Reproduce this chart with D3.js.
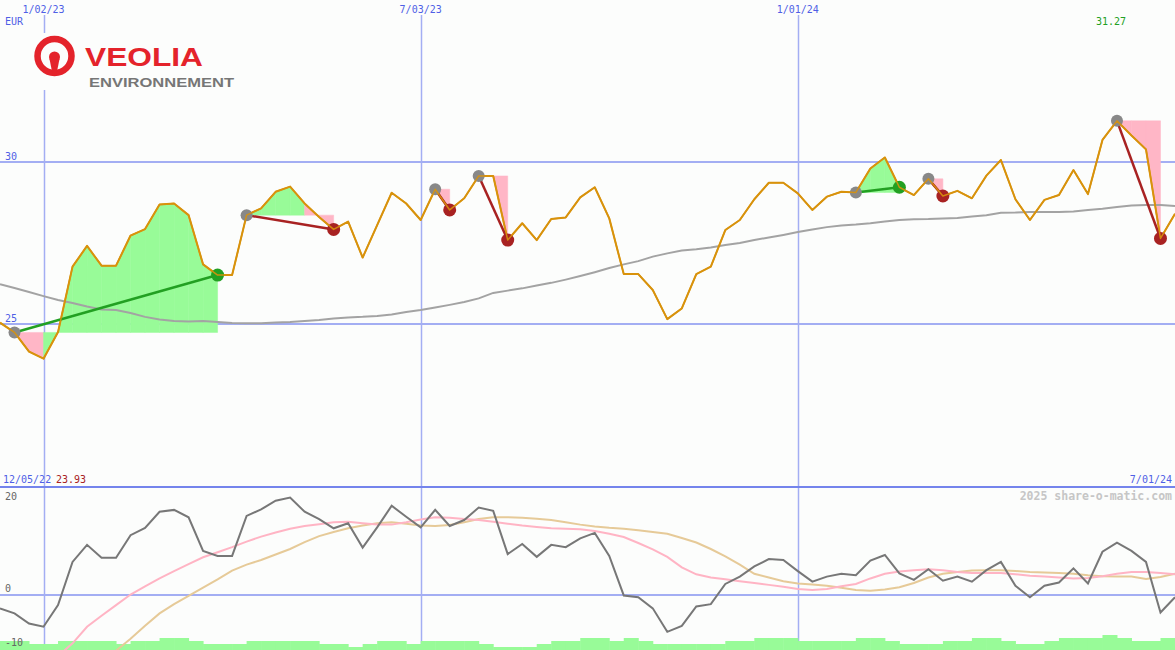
<!DOCTYPE html>
<html><head><meta charset="utf-8">
<script src="https://cdn.jsdelivr.net/npm/d3@7"></script>
<style>body{margin:0;background:#fcfdfc} svg{display:block}</style>
</head><body><svg id="c" width="1175" height="650"></svg>
<script>
// ---------- data ----------
const startDate = "2022-12-12";           // first weekly point
const close = [
  25.04, 24.74, 24.15, 23.93, 24.75, 26.77, 27.41, 26.80, 26.80, 27.73,
  27.93, 28.69, 28.72, 28.36, 26.84, 26.51, 26.51, 28.36, 28.57, 29.08,
  29.24, 28.72, 28.30, 27.92, 28.16, 27.05, 28.05, 29.05, 28.72, 28.21,
  29.16, 28.52, 28.88, 29.57, 29.57, 27.59, 28.11, 27.59, 28.24, 28.29,
  28.91, 29.22, 28.26, 26.54, 26.54, 26.05, 25.15, 25.48, 26.54, 26.77,
  27.90, 28.21, 28.85, 29.36, 29.36, 29.03, 28.52, 28.93, 29.08, 29.06,
  29.80, 30.14, 29.22, 28.98, 29.48, 28.95, 29.11, 28.88, 29.58, 30.06,
  28.85, 28.21, 28.83, 28.98, 29.75, 29.01, 30.68, 31.27, 30.82, 30.39,
  27.64, 28.40
];
const movingAvg = [
  26.23, 26.11, 25.99, 25.86, 25.74, 25.65, 25.54, 25.45, 25.43, 25.34,
  25.22, 25.14, 25.09, 25.08, 25.09, 25.06, 25.03, 25.02, 25.02, 25.05,
  25.06, 25.09, 25.12, 25.17, 25.20, 25.22, 25.25, 25.29, 25.37, 25.43,
  25.51, 25.59, 25.68, 25.79, 25.96, 26.03, 26.10, 26.19, 26.27, 26.37,
  26.48, 26.60, 26.73, 26.84, 26.94, 27.08, 27.18, 27.27, 27.31, 27.36,
  27.44, 27.50, 27.59, 27.67, 27.75, 27.84, 27.92, 27.99, 28.04, 28.07,
  28.11, 28.16, 28.21, 28.23, 28.24, 28.26, 28.27, 28.32, 28.36, 28.43,
  28.44, 28.46, 28.46, 28.46, 28.47, 28.52, 28.56, 28.61, 28.66, 28.67,
  28.67, 28.64
];
const oscillator = [
  -2.9, -4.0, -6.2, -6.9, -2.2, 7.2, 10.9, 8.1, 8.1, 13.0,
  14.6, 18.1, 18.5, 16.9, 9.6, 8.5, 8.5, 17.2, 18.6, 20.5,
  21.2, 18.1, 16.5, 14.5, 15.6, 10.3, 14.7, 19.4, 17.0, 14.7,
  18.5, 15.0, 16.3, 19.0, 18.3, 8.9, 11.1, 8.3, 10.9, 10.4,
  12.3, 13.5, 8.5, -0.1, -0.5, -2.9, -8.0, -6.7, -2.5, -2.0,
  2.4, 4.0, 6.2, 7.8, 7.6, 5.2, 2.9, 4.0, 4.6, 4.3,
  7.5, 8.7, 4.7, 3.3, 5.6, 3.1, 4.0, 2.9, 5.4, 7.2,
  2.0, -0.5, 2.0, 2.7, 5.8, 2.5, 9.4, 11.4, 9.6, 7.2,
  -3.8, -0.5
];
const signalFast = [
  -23, -21, -18.5, -16, -13.3, -10.5, -6.9, -4.5, -2.2, 0.1,
  1.9, 3.6, 5.2, 6.7, 8.2, 9.3, 10.4, 11.6, 12.7, 13.6,
  14.4, 15.0, 15.4, 15.8, 15.9, 15.6, 15.3, 15.3, 15.8, 16.4,
  16.9, 16.8, 16.5, 16.3, 15.9, 15.5, 15.1, 14.8, 14.5, 14.4,
  14.3, 13.9, 13.3, 12.6, 11.3, 9.9, 8.3, 6.0, 4.5, 3.8,
  3.4, 3.0, 2.6, 2.2, 1.8, 1.3, 1.1, 1.3, 1.9, 2.4,
  3.6, 4.6, 5.1, 5.4, 5.6, 5.4, 5.0, 4.8, 4.8, 4.8,
  4.5, 4.2, 4.0, 3.8, 3.6, 3.7, 4.1, 4.6, 5.0, 5.0,
  4.8, 4.5
];
const signalSlow = [
  -31, -29, -27, -25, -22.5, -20, -17.5, -14.8, -12.1, -9.5,
  -6.7, -4.0, -2.0, -0.2, 1.6, 3.4, 5.3, 6.6, 7.6, 8.8,
  10.0, 11.5, 12.8, 13.7, 14.5, 15.1, 15.6, 15.8, 15.5, 15.1,
  15.0, 15.2, 15.8, 16.5, 16.9, 16.9, 16.8, 16.6, 16.3, 15.8,
  15.3, 14.9, 14.6, 14.4, 14.1, 13.7, 13.3, 12.4, 11.4, 10.0,
  8.4, 6.6, 4.6, 3.8, 3.0, 2.5, 2.3, 2.0, 1.6, 1.1,
  0.9, 1.2, 1.7, 2.6, 3.8, 4.6, 5.0, 5.3, 5.4, 5.4,
  5.2, 5.0, 4.9, 4.8, 4.6, 4.3, 4.1, 4.0, 4.0, 3.5,
  3.9, 4.6
];
const volume = [
  3, 3, 2, 2, 3, 3, 3, 3, 2, 3,
  3, 4, 4, 3, 2, 2, 2, 3, 3, 3,
  3, 3, 2, 2, 1, 2, 3, 3, 2, 3,
  3, 3, 3, 2, 1, 1, 1, 2, 3, 3,
  4, 4, 3, 4, 3, 2, 2, 2, 2, 2,
  3, 3, 4, 4, 4, 3, 3, 3, 3, 4,
  4, 3, 2, 2, 2, 3, 3, 4, 4, 3,
  2, 2, 3, 4, 4, 4, 5, 4, 3, 3,
  4, 4
];
const tradeEntry = [1, 17, 30, 33, 59, 64, 77];
const tradeExit  = [15, 23, 31, 35, 62, 65, 80];
const priceTicks = [25, 30];
const oscTicks = [20, 0, -10];
const gridDates  = ["2023-01-02", "2023-07-03", "2024-01-01"];
const gridLabels = ["1/02/23", "7/03/23", "1/01/24"];
const firstLabel = "12/05/22";
const lastLabel = "7/01/24";
const currency = "EUR";
const credit = "2025 share-o-matic.com";

// ---------- setup ----------
const W = 1175, H = 650;
const parse = d3.utcParse("%Y-%m-%d");
const dates = close.map((_, i) => d3.utcDay.offset(parse(startDate), 7 * i));
const x = d3.scaleUtc().domain([dates[0], dates[dates.length - 1]]).range([0, W]);
const y = d3.scaleLinear().domain([25, 30]).range([324, 162]);
const yo = d3.scaleLinear().domain([0, 20]).range([595, 503]);
const vh = d3.scaleLinear().domain([0, 5]).range([0, 15]);

const C = {
  bg: "#fcfdfc", grid: "#a3aef3", sep: "#7484ec", label: "#4f5fe6",
  price: "#d8920c", ma: "#a3a3a3", fillUp: "#98fb98", fillDn: "#ffb6c6",
  entry: "#888888", win: "#22a022", loss: "#a82222",
  osc: "#777777", fast: "#ffb4c4", slow: "#e6ca98", vol: "#98fb98"
};
const mono = "'DejaVu Sans Mono', monospace";

const svg = d3.select("#c");
svg.append("rect").attr("width", W).attr("height", H).attr("fill", C.bg);

// ---------- grid ----------
svg.append("g").selectAll("line").data(gridDates).join("line")
  .attr("x1", d => Math.round(x(parse(d))) + 0.5).attr("x2", d => Math.round(x(parse(d))) + 0.5)
  .attr("y1", 15).attr("y2", H)
  .attr("stroke", C.grid).attr("stroke-width", 1.5);
svg.append("g").selectAll("line").data(priceTicks).join("line")
  .attr("x1", 0).attr("x2", W).attr("y1", d => y(d)).attr("y2", d => y(d))
  .attr("stroke", C.grid).attr("stroke-width", 2);
svg.append("line").attr("x1", 0).attr("x2", W).attr("y1", yo(0)).attr("y2", yo(0))
  .attr("stroke", C.grid).attr("stroke-width", 2);
svg.append("line").attr("x1", 0).attr("x2", W).attr("y1", 487).attr("y2", 487)
  .attr("stroke", C.sep).attr("stroke-width", 2);

// ---------- trade fills ----------
const fillG = svg.append("g");
const segArea = d3.area().x(d => x(d.date)).y0(d => y(d.base)).y1(d => y(d.v));
tradeEntry.forEach((e, k) => {
  const s = tradeExit[k], base = close[e];
  for (let i = e; i < s; i++) {
    const pts = [{date: dates[i], v: close[i], base}, {date: dates[i + 1], v: close[i + 1], base}];
    fillG.append("path").attr("d", segArea(pts))
      .attr("fill", close[i + 1] >= base - 0.005 ? C.fillUp : C.fillDn)
      .attr("stroke", close[i + 1] >= base - 0.005 ? C.fillUp : C.fillDn).attr("stroke-width", 0.5);
  }
});

// ---------- lines ----------
const line = d3.line().x((d, i) => x(dates[i])).y(d => y(d));
svg.append("path").attr("d", line(movingAvg)).attr("fill", "none")
  .attr("stroke", C.ma).attr("stroke-width", 2);
svg.append("path").attr("d", line(close)).attr("fill", "none")
  .attr("stroke", C.price).attr("stroke-width", 2).attr("stroke-linejoin", "round");

// trade connectors and dots
const tg = svg.append("g");
tradeEntry.forEach((e, k) => {
  const s = tradeExit[k], win = close[s] > close[e];
  tg.append("line").attr("x1", x(dates[e])).attr("y1", y(close[e]))
    .attr("x2", x(dates[s])).attr("y2", y(close[s]))
    .attr("stroke", win ? C.win : C.loss).attr("stroke-width", 2.5);
});
tradeEntry.forEach((e, k) => {
  const s = tradeExit[k], win = close[s] > close[e];
  tg.append("circle").attr("cx", x(dates[e])).attr("cy", y(close[e])).attr("r", 6)
    .attr("fill", C.entry);
  tg.append("circle").attr("cx", x(dates[s])).attr("cy", y(close[s])).attr("r", 6.5)
    .attr("fill", win ? C.win : C.loss);
});
// redraw price line over dots? (reference shows line over dots slightly)
svg.append("path").attr("d", line(close)).attr("fill", "none")
  .attr("stroke", C.price).attr("stroke-width", 1.5).attr("stroke-linejoin", "round").attr("opacity", 0.9);

// ---------- lower panel ----------
svg.append("clipPath").attr("id", "lowclip").append("rect")
  .attr("x", 0).attr("y", 488).attr("width", W).attr("height", H - 488);
const low = svg.append("g").attr("clip-path", "url(#lowclip)");
const step = x(dates[1]) - x(dates[0]);
low.selectAll("rect.vol").data(volume).join("rect").attr("class", "vol")
  .attr("x", (d, i) => x(dates[i])).attr("width", step + 0.5)
  .attr("y", d => H - vh(d)).attr("height", d => vh(d)).attr("fill", C.vol);
const oline = d3.line().x((d, i) => x(dates[i])).y(d => yo(d));
low.append("path").attr("d", oline(signalSlow)).attr("fill", "none").attr("stroke", C.slow).attr("stroke-width", 2);
low.append("path").attr("d", oline(signalFast)).attr("fill", "none").attr("stroke", C.fast).attr("stroke-width", 2);
low.append("path").attr("d", oline(oscillator)).attr("fill", "none").attr("stroke", C.osc).attr("stroke-width", 2);

// ---------- logo ----------
const logo = svg.append("g");
logo.append("rect").attr("x", 30).attr("y", 33).attr("width", 212).attr("height", 57).attr("fill", C.bg);
logo.append("circle").attr("cx", 54.5).attr("cy", 56).attr("r", 17).attr("fill", "none")
  .attr("stroke", "#e4232b").attr("stroke-width", 6.5);
logo.append("circle").attr("cx", 54.5).attr("cy", 57).attr("r", 5.5).attr("fill", "#e4232b");
logo.append("path").attr("d", "M49.5,59 L52.5,74 L56.5,74 L59.5,59 Z").attr("fill", "#e4232b");
logo.append("text").attr("x", 85).attr("y", 65.5).text("VEOLIA")
  .attr("font-family", "'Liberation Sans', Arial, sans-serif").attr("font-weight", "bold")
  .attr("font-size", 25).attr("fill", "#e4232b")
  .attr("textLength", 118).attr("lengthAdjust", "spacingAndGlyphs");
logo.append("text").attr("x", 89).attr("y", 86.5).text("ENVIRONNEMENT")
  .attr("font-family", "'Liberation Sans', Arial, sans-serif").attr("font-weight", "bold")
  .attr("font-size", 12.5).attr("fill", "#767676")
  .attr("textLength", 145).attr("lengthAdjust", "spacingAndGlyphs");

// ---------- labels ----------
const txt = (t, xx, yy, col, anchor = "start", size = 10, weight = "normal") =>
  svg.append("text").attr("x", xx).attr("y", yy).text(t)
    .attr("font-family", mono).attr("font-size", size).attr("fill", col)
    .attr("text-anchor", anchor).attr("font-weight", weight);

gridDates.forEach((d, i) => txt(gridLabels[i], x(parse(d)), 13, C.label, "middle"));
txt(currency, 5, 25, C.label);
priceTicks.forEach(v => txt(String(v), 5, y(v) - 2, C.label));
const maxI = d3.maxIndex(close), minI = d3.minIndex(close);
txt(close[maxI].toFixed(2), x(dates[maxI]) - 6, 25, C.win, "middle");
txt(firstLabel, 3, 483, C.label);
txt(close[minI].toFixed(2), 56, 483, C.loss);
txt(lastLabel, 1172, 483, C.label, "end");
txt(credit, 1172, 500, "#c6c6c6", "end", 11.5, "bold");
const lowest = d3.min(oscTicks);
oscTicks.forEach(v => txt(String(v), 5, v === lowest ? H - 4 : yo(v) - 3, "#666666"));
</script>
</body></html>
